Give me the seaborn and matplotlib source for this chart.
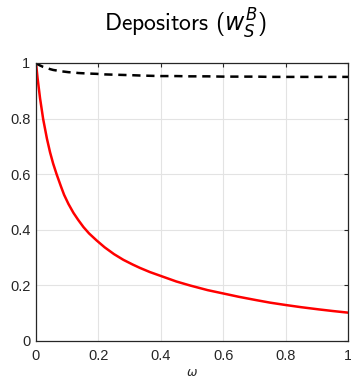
import matplotlib
matplotlib.use("Agg")
import matplotlib.pyplot as plt
import seaborn as sns
import pandas as pd

omega = [0.0, 0.002, 0.005, 0.013, 0.023, 0.035, 0.045, 0.055, 0.066, 0.08, 0.09, 0.104, 0.12,
         0.135, 0.152, 0.17, 0.194, 0.22, 0.25, 0.28, 0.31, 0.333, 0.365, 0.4, 0.45,
         0.494, 0.55, 0.6, 0.65, 0.706, 0.75, 0.8, 0.85, 0.907, 0.95, 1.0]
red_vals = [1.0, 0.978, 0.946, 0.873, 0.798, 0.728, 0.679, 0.638, 0.600, 0.556, 0.526, 0.493, 0.461,
            0.436, 0.410, 0.387, 0.362, 0.337, 0.3125, 0.292, 0.275, 0.263, 0.248, 0.234, 0.214,
            0.1996, 0.183, 0.171, 0.159, 0.147, 0.138, 0.1295, 0.1216, 0.1136, 0.108, 0.102]
black_vals = [1.0, 0.998, 0.996, 0.991, 0.986, 0.982, 0.978, 0.975, 0.973, 0.970, 0.969, 0.967, 0.966,
              0.964, 0.963, 0.962, 0.961, 0.959, 0.958, 0.957, 0.956, 0.955, 0.954, 0.953, 0.953,
              0.952, 0.952, 0.951, 0.951, 0.951, 0.950, 0.950, 0.950, 0.950, 0.950, 0.950]

sns.set_theme(style="white")
plt.rcParams['font.family'] = ['Liberation Sans', 'DejaVu Sans']
plt.rcParams['mathtext.fontset'] = 'dejavusans'

n = len(omega)
df = pd.DataFrame({"omega": omega + omega,
                   "value": red_vals + black_vals,
                   "series": ["red"] * n + ["black"] * n})

fig = plt.figure(figsize=(3.51, 3.80), dpi=100)
ax = fig.add_axes([36 / 351, 39 / 380, 312 / 351, 278 / 380])

sns.lineplot(data=df[df.series == "red"], x="omega", y="value", color="#ff0000", lw=1.8, ax=ax)
sns.lineplot(data=df[df.series == "black"], x="omega", y="value", color="black", lw=1.8, ax=ax,
             linestyle=(0, (3.3, 2.3)))

ax.set_xlim(0, 1)
ax.set_ylim(0, 1)
ticks = [0, 0.2, 0.4, 0.6, 0.8, 1]
labels = ["0", "0.2", "0.4", "0.6", "0.8", "1"]
ax.set_xticks(ticks)
ax.set_xticklabels(labels)
ax.set_yticks(ticks)
ax.set_yticklabels(labels)
ax.tick_params(direction="in", length=3, width=0.8, colors="#262626", labelsize=10.5,
               top=True, right=True, labelcolor="#262626")
ax.tick_params(axis="x", pad=6)
ax.tick_params(axis="y", pad=4)
ax.grid(True, color="#e3e3e3", lw=0.8)
for s in ax.spines.values():
    s.set_color("#262626")
    s.set_linewidth(0.9)
ax.set_xlabel(r"$\omega$", fontsize=9, labelpad=3, color="#262626")
ax.set_ylabel("")

fig.text(185 / 351, 1 - 31.7 / 380, r"Depositors ($w_S^B$)", fontsize=17,
         family=["cmss10", "DejaVu Sans"], ha="center", va="baseline", color="black")

fig.savefig("out.png", dpi=100)
